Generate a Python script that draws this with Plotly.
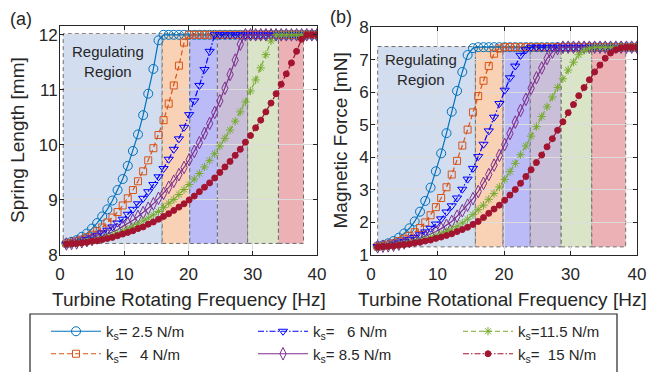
import plotly.graph_objects as go

# ---------------- data ----------------
freq_hz = [1.0, 1.8, 2.59, 3.39, 4.18, 4.98, 5.78, 6.57, 7.37, 8.16, 8.96, 9.76, 10.55, 11.35, 12.14,
           12.94, 13.73, 14.53, 15.33, 16.12, 16.92, 17.71, 18.51, 19.31, 20.1, 20.9, 21.69, 22.49,
           23.29, 24.08, 24.88, 25.67, 26.47, 27.27, 28.06, 28.86, 29.65, 30.45, 31.24, 32.04, 32.84,
           33.63, 34.43, 35.22, 36.02, 36.82, 37.61, 38.41, 39.2, 40.0]

spring_ks_2_5 = [8.21, 8.24, 8.27, 8.33, 8.39, 8.48, 8.58, 8.70, 8.83, 8.99, 9.18, 9.38, 9.62, 9.89,
                 10.19, 10.54, 10.93, 11.38, 11.90,
                 12.0, 12.0, 12.0, 12.0, 12.0, 12.0, 12.0, 12.0, 12.0, 12.0,
                 12.0, 12.0, 12.0, 12.0, 12.0, 12.0, 12.0, 12.0, 12.0, 12.0,
                 12.0, 12.0, 12.0, 12.0, 12.0, 12.0, 12.0, 12.0, 12.0, 12.0, 12.0]
spring_ks_4 = [8.21, 8.22, 8.25, 8.28, 8.32, 8.37, 8.43, 8.50, 8.59, 8.68, 8.78, 8.90, 9.03, 9.18,
               9.34, 9.52, 9.72, 9.94, 10.18, 10.45, 10.75, 11.08, 11.44, 11.86,
               12.0, 12.0, 12.0, 12.0, 12.0, 12.0, 12.0, 12.0, 12.0, 12.0,
               12.0, 12.0, 12.0, 12.0, 12.0, 12.0, 12.0, 12.0, 12.0, 12.0,
               12.0, 12.0, 12.0, 12.0, 12.0, 12.0]
spring_ks_6 = [8.20, 8.21, 8.23, 8.25, 8.28, 8.31, 8.35, 8.40, 8.45, 8.51, 8.58, 8.65, 8.74, 8.83,
               8.93, 9.03, 9.15, 9.28, 9.42, 9.57, 9.74, 9.92, 10.11, 10.32, 10.55, 10.80, 11.08,
               11.37, 11.70,
               12.0, 12.0, 12.0, 12.0, 12.0, 12.0, 12.0, 12.0, 12.0, 12.0,
               12.0, 12.0, 12.0, 12.0, 12.0, 12.0, 12.0, 12.0, 12.0, 12.0, 12.0]
spring_ks_8_5 = [8.20, 8.21, 8.22, 8.24, 8.26, 8.28, 8.31, 8.34, 8.38, 8.42, 8.46, 8.52, 8.57, 8.63,
                 8.70, 8.77, 8.85, 8.93, 9.03, 9.12, 9.23, 9.34, 9.46, 9.59, 9.73, 9.88, 10.04,
                 10.21, 10.39, 10.59, 10.80, 11.03, 11.28, 11.54, 11.83,
                 12.0, 12.0, 12.0, 12.0, 12.0, 12.0, 12.0, 12.0, 12.0, 12.0,
                 12.0, 12.0, 12.0, 12.0, 12.0]
spring_ks_11_5 = [8.20, 8.21, 8.22, 8.23, 8.24, 8.26, 8.28, 8.30, 8.33, 8.36, 8.39, 8.43, 8.47, 8.52,
                  8.56, 8.62, 8.67, 8.73, 8.79, 8.86, 8.94, 9.01, 9.10, 9.19, 9.28, 9.38, 9.48,
                  9.60, 9.72, 9.84, 9.98, 10.12, 10.27, 10.43, 10.60, 10.78, 10.98, 11.18, 11.40,
                  11.64, 11.89,
                  12.0, 12.0, 12.0, 12.0, 12.0, 12.0, 12.0, 12.0, 12.0]
spring_ks_15 = [8.20, 8.21, 8.21, 8.22, 8.23, 8.25, 8.26, 8.28, 8.30, 8.32, 8.35, 8.38, 8.41, 8.44,
                8.48, 8.51, 8.56, 8.60, 8.65, 8.70, 8.75, 8.81, 8.87, 8.93, 9.00, 9.07, 9.15, 9.23,
                9.31, 9.40, 9.50, 9.60, 9.70, 9.81, 9.92, 10.05, 10.17, 10.31, 10.45, 10.60, 10.76,
                10.93, 11.10, 11.29, 11.49, 11.70, 11.92, 12.0, 12.0, 12.0]

force_ks_2_5 = [1.27, 1.30, 1.36, 1.43, 1.53, 1.66, 1.82, 2.03, 2.33, 2.66, 3.07, 3.57, 4.12, 4.74,
                5.40, 6.04, 6.62, 7.14, 7.35,
                7.38, 7.38, 7.38, 7.38, 7.38, 7.38, 7.38, 7.38, 7.38, 7.38,
                7.38, 7.38, 7.38, 7.38, 7.38, 7.38, 7.38, 7.38, 7.38, 7.38,
                7.38, 7.38, 7.38, 7.38, 7.38, 7.38, 7.38, 7.38, 7.38, 7.38, 7.38]
force_ks_4 = [1.26, 1.28, 1.32, 1.36, 1.43, 1.50, 1.59, 1.70, 1.83, 2.00, 2.22, 2.47, 2.75, 3.08,
              3.47, 3.89, 4.36, 4.85, 5.38, 5.88, 6.35, 6.80, 7.18, 7.34,
              7.38, 7.38, 7.38, 7.38, 7.38, 7.38, 7.38, 7.38, 7.38, 7.38,
              7.38, 7.38, 7.38, 7.38, 7.38, 7.38, 7.38, 7.38, 7.38, 7.38,
              7.38, 7.38, 7.38, 7.38, 7.38, 7.38]
force_ks_6 = [1.26, 1.27, 1.29, 1.33, 1.37, 1.42, 1.47, 1.54, 1.62, 1.71, 1.82, 1.95, 2.11, 2.32,
              2.51, 2.75, 3.02, 3.33, 3.66, 4.02, 4.40, 4.81, 5.23, 5.65, 6.06, 6.44, 6.80, 7.13,
              7.30,
              7.38, 7.38, 7.38, 7.38, 7.38, 7.38, 7.38, 7.38, 7.38, 7.38,
              7.38, 7.38, 7.38, 7.38, 7.38, 7.38, 7.38, 7.38, 7.38, 7.38, 7.38]
force_ks_8_5 = [1.25, 1.27, 1.28, 1.30, 1.33, 1.37, 1.41, 1.45, 1.51, 1.57, 1.64, 1.72, 1.81, 1.91,
                2.03, 2.19, 2.36, 2.53, 2.73, 2.95, 3.20, 3.47, 3.76, 4.06, 4.39, 4.73, 5.08, 5.44,
                5.78, 6.12, 6.44, 6.74, 7.03, 7.23, 7.34,
                7.38, 7.38, 7.38, 7.38, 7.38, 7.38, 7.38, 7.38, 7.38, 7.38,
                7.38, 7.38, 7.38, 7.38, 7.38]
force_ks_11_5 = [1.25, 1.26, 1.27, 1.29, 1.31, 1.34, 1.37, 1.40, 1.44, 1.48, 1.53, 1.59, 1.65, 1.72,
                 1.79, 1.88, 1.98, 2.10, 2.24, 2.39, 2.53, 2.71, 2.89, 3.09, 3.32, 3.56, 3.81, 4.08,
                 4.35, 4.65, 4.94, 5.25, 5.55, 5.85, 6.14, 6.41, 6.68, 6.92, 7.15, 7.28, 7.35,
                 7.38, 7.38, 7.38, 7.38, 7.38, 7.38, 7.38, 7.38, 7.38]
force_ks_15 = [1.25, 1.26, 1.27, 1.28, 1.30, 1.32, 1.34, 1.37, 1.39, 1.43, 1.46, 1.51, 1.55, 1.60,
               1.65, 1.72, 1.78, 1.85, 1.94, 2.03, 2.15, 2.28, 2.41, 2.53, 2.68, 2.84, 3.01, 3.20,
               3.41, 3.62, 3.84, 4.07, 4.32, 4.57, 4.83, 5.09, 5.37, 5.62, 5.89, 6.14, 6.38, 6.62,
               6.83, 7.04, 7.20, 7.30, 7.36, 7.38, 7.38, 7.38]

series_labels = ["k<sub>s</sub>= 2.5 N/m", "k<sub>s</sub>=\u00a0\u00a0 4 N/m", "k<sub>s</sub>=\u00a0\u00a0 6 N/m",
                 "k<sub>s</sub>= 8.5 N/m", "k<sub>s</sub>=11.5 N/m", "k<sub>s</sub>=\u00a0 15 N/m"]
spring_series = [spring_ks_2_5, spring_ks_4, spring_ks_6, spring_ks_8_5, spring_ks_11_5, spring_ks_15]
force_series = [force_ks_2_5, force_ks_4, force_ks_6, force_ks_8_5, force_ks_11_5, force_ks_15]

# region boundaries (Hz) and vertical extent
left_region_edges = [0.5, 15.9, 20.2, 24.5, 29.2, 34.0, 37.9]
left_region_y = [8.21, 12.02]
right_region_edges = [1.0, 15.7, 19.85, 23.95, 28.6, 33.2, 38.3]
right_region_y = [1.25, 7.4]

# ---------------- style ----------------
colors = ["#0072BD", "#D95319", "#0000FF", "#7E2F8E", "#77AC30", "#A2142F"]
dashes = ["solid", "5px,3px", "6px,2px,1.5px,2px", "solid", "5px,3px", "6px,2px,1.5px,2px"]
symbols = ["circle-open", "square-open", "triangle-down-open", "diamond-tall-open", "asterisk-open", "circle"]
msizes = [9, 7, 8, 9, 7, 6]
legend_ids = ["legend", "legend", "legend2", "legend2", "legend3", "legend3"]
legend_order = [1, 2, 1, 2, 1, 2]
region_fills = ["#D2DEF0", "#F9D1B4", "#BBBBF7", "#C9BFD8", "#DAE4C7", "#EBB1B4"]

FONT = "Liberation Sans, Arial, sans-serif"
TXT = "#262626"
W, H = 647, 372


def px(x):
    return x / W


def py(y):
    return 1 - y / H


fig = go.Figure()
for i in range(6):
    common = dict(mode="lines+markers", name=series_labels[i],
                  line=dict(color=colors[i], width=1.2, dash=dashes[i]),
                  marker=dict(symbol=symbols[i], size=msizes[i], color=colors[i],
                              line=dict(width=1, color=colors[i])))
    fig.add_trace(go.Scatter(x=freq_hz, y=spring_series[i], xaxis="x", yaxis="y",
                             legend=legend_ids[i], legendrank=legend_order[i], showlegend=True, **common))
    fig.add_trace(go.Scatter(x=freq_hz, y=force_series[i], xaxis="x2", yaxis="y2",
                             showlegend=False, **common))

shapes = []
for xr, yr, edges, ylim in (("x", "y", left_region_edges, left_region_y),
                            ("x2", "y2", right_region_edges, right_region_y)):
    for j in range(6):
        shapes.append(dict(type="rect", xref=xr, yref=yr, x0=edges[j], x1=edges[j + 1],
                           y0=ylim[0], y1=ylim[1], fillcolor=region_fills[j], layer="below",
                           line=dict(color="#6E6E6E", width=1, dash="4px,3px")))
# legend frame
shapes.append(dict(type="rect", xref="paper", yref="paper", x0=px(30), x1=px(617),
                   y0=py(395), y1=py(314), line=dict(color="#262626", width=1.2),
                   fillcolor="rgba(0,0,0,0)"))

axis_common = dict(showline=True, mirror="ticks", linecolor=TXT, linewidth=1,
                   ticks="inside", ticklen=4, tickcolor=TXT, showgrid=True,
                   gridcolor="#DCDCDC", gridwidth=1, zeroline=False,
                   tickfont=dict(family=FONT, size=17, color=TXT))

annotations = [
    dict(text="Spring Length [mm]", x=px(17.5), y=py(140.5), textangle=-90, font=dict(size=19)),
    dict(text="Magnetic Force [mN]", x=px(339.5), y=py(141), textangle=-90, font=dict(size=19)),
    dict(text="Turbine Rotating Frequency [Hz]", x=px(189), y=py(299), font=dict(size=19)),
    dict(text="Turbine Rotational Frequency [Hz]", x=px(502), y=py(299), font=dict(size=19)),
    dict(text="(a)", x=px(21), y=py(19), font=dict(size=18)),
    dict(text="(b)", x=px(341), y=py(17), font=dict(size=18)),
    dict(text="Regulating<br>Region", x=px(108), y=py(62), font=dict(size=15)),
    dict(text="Regulating<br>Region", x=px(421), y=py(69), font=dict(size=15)),
]
for a in annotations:
    a.update(xref="paper", yref="paper", showarrow=False, xanchor="center", yanchor="middle")
    a["font"].update(family=FONT, color=TXT)

legend_common = dict(orientation="v", xanchor="left", yanchor="top", y=py(315),
                     bgcolor="rgba(0,0,0,0)", borderwidth=0, tracegroupgap=0, itemwidth=50,
                     font=dict(family=FONT, size=15, color=TXT))

fig.update_layout(
    width=W, height=H, margin=dict(l=0, r=0, t=0, b=0, autoexpand=False),
    paper_bgcolor="white", plot_bgcolor="white",
    font=dict(family=FONT, color=TXT),
    xaxis=dict(domain=[px(60), px(317)], range=[0, 40], tickvals=[0, 10, 20, 30, 40], anchor="y",
               ticklabelstandoff=4, **axis_common),
    yaxis=dict(domain=[py(255), py(26)], range=[8, 12.16], tickvals=[8, 9, 10, 11, 12], anchor="x",
               ticklabelstandoff=-2, **axis_common),
    xaxis2=dict(domain=[px(371), px(637)], range=[0, 40], tickvals=[0, 10, 20, 30, 40], anchor="y2",
                ticklabelstandoff=4, **axis_common),
    yaxis2=dict(domain=[py(255), py(27)], range=[1, 8], tickvals=[1, 2, 3, 4, 5, 6, 7, 8], anchor="x2",
                ticklabelstandoff=-2, **axis_common),
    shapes=shapes, annotations=annotations,
    legend=dict(x=px(46), **legend_common),
    legend2=dict(x=px(253), **legend_common),
    legend3=dict(x=px(458), **legend_common),
)

fig.write_html("out.html", config={"displayModeBar": False},
               post_script="document.body.style.margin='0px';document.body.style.overflow='hidden';")
